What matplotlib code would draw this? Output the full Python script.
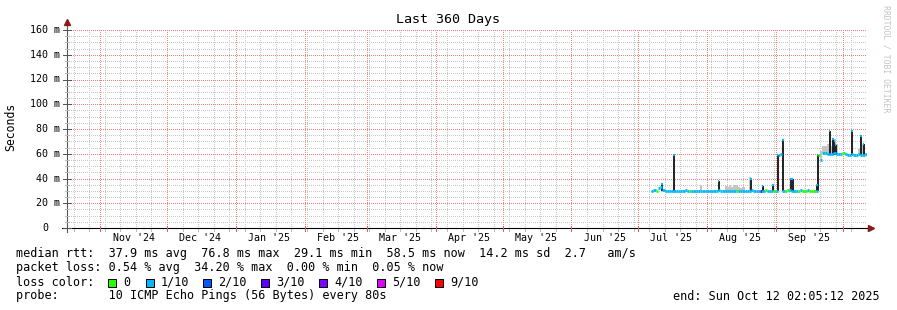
import matplotlib as mpl
mpl.use('Agg')
import matplotlib.pyplot as plt
import matplotlib.dates as mdates
import matplotlib.transforms as mtransforms
from matplotlib.lines import Line2D
from matplotlib.patches import Rectangle
import numpy as np
import pandas as pd

W, H = 897, 310
MONO = 'DejaVu Sans Mono'

t_start = pd.Timestamp('2024-10-17 02:05:12')
t_end = pd.Timestamp('2025-10-12 02:05:12')
t_ref = pd.Timestamp('2025-07-01')   # all day offsets below count from here
first_day = 6                        # median series starts Jul 7

# daily median rtt (ms), Jul 7 .. Oct 11
median_ms = [30.0, 31.0, 29.8, 32.0, 33.0, 30.5, 29.8, 30.2, 30.0, 29.6,
             29.6, 29.5, 29.6, 29.5, 29.7, 30.5, 29.6, 29.5, 29.6, 30.0, 29.5, 29.6, 29.5, 29.5, 29.6,
             29.6, 29.5, 29.6, 29.8, 29.5, 30.5, 29.5, 29.6, 29.5, 29.6, 29.5, 29.5, 29.8, 29.6, 29.5,
             29.7, 30.0, 29.6, 29.5, 29.6, 31.0, 29.6, 29.5, 29.6, 29.5, 29.6, 30.5, 29.6, 29.5, 29.6, 29.6,
             30.0, 59.0, 59.5, 30.0, 29.8, 30.5, 31.0, 30.0, 29.6, 30.0, 29.5, 30.5, 30.0, 29.6, 30.5,
             30.0, 29.8, 29.6, 30.0, 59.0, 55.0, 61.0, 61.0, 60.0, 59.5, 60.0, 60.5, 59.5, 59.5, 59.5,
             61.0, 59.5, 59.0, 59.0, 59.5, 59.0, 59.0, 59.5, 59.0, 59.0, 59.5]

# days with other loss than 1/10
loss0_days = [8, 23, 44, 57, 61, 66, 67, 72, 74, 75, 77, 78, 79, 81, 92]
loss3_days = [55]

# visible smoke (spread of the pings)
smoke_days = [28, 39, 40, 41, 42, 43, 44, 45, 46, 47, 50,
              82, 83, 84, 85, 86, 87, 88, 89, 99, 100, 101]
smoke_top_ms = [35.0, 34.0, 33.0, 34.5, 33.0, 35.0, 35.0, 33.0, 32.0, 33.0, 41.5,
                62.0, 66.0, 66.0, 68.0, 70.0, 66.0, 72.0, 68.0, 64.0, 65.0, 68.0]

# short dark spikes
spike_days = [10.8, 16.2, 36.3, 50.8, 56.1, 60.9, 62.9, 65.2, 68.9, 69.6,
              80.6, 80.9, 86.3, 87.9, 88.4, 89.0, 96.4, 100.3, 101.6]
spike_lo_ms = [29.5] * 12 + [59.0] * 7
spike_hi_ms = [35.4, 59.0, 38.0, 40.0, 34.0, 35.0, 59.0, 71.0, 40.0, 40.0,
               35.0, 59.0, 78.0, 72.0, 70.0, 67.0, 78.0, 74.0, 68.0]

loss_colors = ['#26ff00', '#00b8ff', '#0059ff', '#5e00ff', '#7e00ff', '#dd00ff', '#ff0000']
loss_names = ['0', '1/10', '2/10', '3/10', '4/10', '5/10', '9/10']

y_ticks = [0, 20, 40, 60, 80, 100, 120, 140, 160]
stats_line = 'median rtt:  37.9 ms avg  76.8 ms max  29.1 ms min  58.5 ms now  14.2 ms sd  2.7   am/s'
loss_line = 'packet loss: 0.54 % avg  34.20 % max  0.00 % min  0.05 % now'
probe_line = 'probe:       10 ICMP Echo Pings (56 Bytes) every 80s'
end_line = 'end: Sun Oct 12 02:05:12 2025'


def px(x, y):
    return x / W, 1 - y / H


fig = plt.figure(figsize=(W / 100, H / 100), dpi=100)
fig.patch.set_facecolor('white')
ax_l, ax_r, ax_b, ax_t = 67, 867, 228, 30
ax = fig.add_axes([ax_l / W, 1 - ax_b / H, (ax_r - ax_l) / W, (ax_b - ax_t) / H])
ax.set_axis_off()
x0, x1 = mdates.date2num(t_start), mdates.date2num(t_end)
ax.set_xlim(x0, x1)
ax.set_ylim(0, 160)
ref = mdates.date2num(t_ref)

# grid: 1px dots, 1px gaps
dot = (0.5, (1, 1))
gkw = dict(lw=0.72, ls=dot)
for v in np.arange(5, 161, 5):
    if v % 20 == 0:
        continue
    ax.axhline(v, color='#c8c8c8', zorder=1, **gkw)
weeks = mdates.date2num(pd.date_range(t_start, t_end, freq='W-SUN'))
for w in weeks:
    ax.axvline(w, color='#c8c8c8', zorder=1, **gkw)
for v in y_ticks[1:]:
    ax.axhline(v, color='#f28080', zorder=2, **gkw)
months = mdates.date2num(pd.date_range(t_start, t_end, freq='MS'))
for m in months:
    ax.axvline(m, color='#f28080', zorder=2, **gkw)

# smoke
sx = ref + np.array(smoke_days)
med = np.array(median_ms)
days = np.arange(first_day, first_day + len(median_ms))
smoke_base = med[np.array(smoke_days) - first_day]
ax.bar(sx, np.array(smoke_top_ms) - smoke_base, bottom=smoke_base, width=1.0,
       align='edge', color='#c4c4c4', lw=0, zorder=3)

# spikes
spx = ref + np.array(spike_days)
ax.vlines(spx, spike_lo_ms, spike_hi_ms, color='#202020', lw=1.4, zorder=4)

# median line coloured by loss
cols = []
for d in days:
    if d in loss0_days:
        cols.append(loss_colors[0])
    elif d in loss3_days:
        cols.append(loss_colors[3])
    else:
        cols.append(loss_colors[1])
dx = ref + days
ax.hlines(med, dx, dx + 1, colors=cols, lw=2.0, zorder=5)
cap = 0.35
ax.hlines(spike_hi_ms, spx - cap, spx + cap, colors=loss_colors[1], lw=1.6, zorder=5)

# axes lines and arrows
bx = mtransforms.blended_transform_factory(ax.transData, fig.transFigure)
by = mtransforms.blended_transform_factory(fig.transFigure, ax.transData)
fig.add_artist(Line2D([62 / W, 870 / W], [1 - ax_b / H] * 2, color='black', lw=0.8))
fig.add_artist(Line2D([ax_l / W] * 2, [1 - 232 / H, 1 - 23 / H], color='#555555', lw=0.8))
fig.add_artist(Line2D([871 / W], [1 - ax_b / H], marker='>', ms=4, color='#8b1a1a', lw=0))
fig.add_artist(Line2D([ax_l / W], [1 - 22 / H], marker='^', ms=4, color='#8b1a1a', lw=0))

# y ticks and labels
for v in np.arange(0, 161, 5):
    if v % 20 == 0:
        fig.add_artist(Line2D([63 / W, 71 / W], [v, v], transform=by, color='#555555', lw=0.72))
    else:
        fig.add_artist(Line2D([65 / W, 69 / W], [v, v], transform=by, color='#bbbbbb', lw=0.72))
for v in y_ticks:
    if v == 0:
        fig.text(48 / W, v, '0', transform=by, ha='right', va='center', family=MONO, fontsize=7.2)
    else:
        fig.text(60 / W, v, '%d m' % v, transform=by, ha='right', va='center', family=MONO, fontsize=7.2)

# x ticks and labels
for w in weeks:
    fig.add_artist(Line2D([w, w], [1 - 229 / H, 1 - 231 / H], transform=bx, color='#bbbbbb', lw=0.72))
for m in months:
    fig.add_artist(Line2D([m, m], [1 - 226 / H, 1 - 231 / H], transform=bx, color='#e06060', lw=0.72))
for m in pd.date_range(t_start, t_end, freq='MS'):
    mid = m + pd.Timedelta(days=15)
    if t_start < mid < t_end:
        fig.text(mdates.date2num(mid), 1 - 238.3 / H, mid.strftime("%b '%y"), transform=bx,
                 ha='center', va='center', family=MONO, fontsize=7.2)

# titles
fig.text(*px(448, 19.5), 'Last 360 Days', ha='center', va='center', family=MONO, fontsize=9.6)
fig.text(*px(11, 127), 'Seconds', rotation=90, ha='center', va='center', family=MONO, fontsize=8.3)
fig.text(*px(886, 5), 'RRDTOOL / TOBI OETIKER', rotation=270, ha='center', va='top',
         family=MONO, fontsize=5.9, color='#c4c4c4')

# legend block
fig.text(*px(16, 254), stats_line, ha='left', va='center', family=MONO, fontsize=8.5)
fig.text(*px(16, 268), loss_line, ha='left', va='center', family=MONO, fontsize=8.5)
fig.text(*px(16, 282), 'loss color:', ha='left', va='center', family=MONO, fontsize=8.5)
box_x = [108.3, 145.7, 203, 261, 319, 376.7, 435]
for bxp, c, name in zip(box_x, loss_colors, loss_names):
    fx, fy = px(bxp, 286.7)
    fig.add_artist(Rectangle((fx, fy), 8 / W, 8 / H, transform=fig.transFigure,
                             facecolor=c, edgecolor='black', lw=0.72))
    fig.text(*px(bxp + 15, 282), name, ha='left', va='center', family=MONO, fontsize=8.5)
fig.text(*px(16, 296), probe_line, ha='left', va='center', family=MONO, fontsize=8.5)
fig.text(*px(880, 296), end_line, ha='right', va='center', family=MONO, fontsize=8.5)

fig.savefig('out.png', dpi=100)
